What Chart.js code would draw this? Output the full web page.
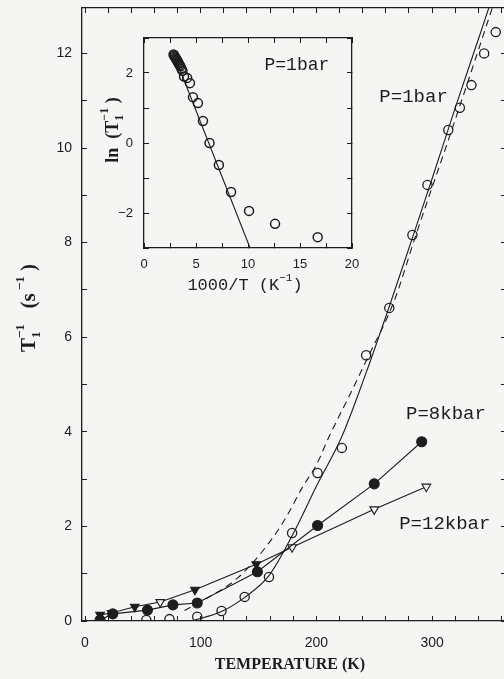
<!DOCTYPE html>
<html>
<head>
<meta charset="utf-8">
<script src="https://cdn.jsdelivr.net/npm/chart.js@4.4.1/dist/chart.umd.min.js"></script>
<style>
  html, body { margin: 0; padding: 0; background: #f5f5f4; overflow: hidden; }
  #wrap { position: relative; width: 504px; height: 679px; overflow: hidden; }
  #main { position: absolute; left: 0; top: 0; }
  #inset { position: absolute; left: 95px; top: 30px; }
</style>
</head>
<body>
<div id="wrap">
  <canvas id="main" width="512" height="679"></canvas>
  <canvas id="inset" width="265" height="270"></canvas>
</div>
<script>
const ink = '#1d1d1d';

// relaxation rate T1^-1 (s^-1) against temperature (K)
const tempOneBar = [53, 73, 97, 118, 138, 159, 179, 201, 222, 243, 263, 283, 296, 314, 324, 334, 345, 355];
const rateOneBar = [0.02, 0.04, 0.09, 0.21, 0.51, 0.93, 1.86, 3.13, 3.66, 5.62, 6.62, 8.16, 9.22, 10.38, 10.85, 11.33, 12.0, 12.45];

const temp8kbar = [13, 24, 54, 76, 97, 149, 201, 250, 291];
const rate8kbar = [0.02, 0.15, 0.23, 0.34, 0.38, 1.04, 2.02, 2.9, 3.79];

const temp12kbar = [13, 23, 43, 65, 95, 148, 179, 250, 295];
const rate12kbar = [0.13, 0.17, 0.3, 0.4, 0.66, 1.2, 1.56, 2.36, 2.84];
const filled12kbar = [true, true, true, false, true, true, false, false, false];

// 1 bar fits: solid and dashed
const fitTemp = [92, 118, 138, 159, 179, 200, 222, 243, 263, 283, 300, 320, 340, 349];
const fitRate = [0.0, 0.2, 0.5, 0.96, 1.8, 2.85, 3.9, 5.25, 6.65, 8.1, 9.35, 10.85, 12.3, 12.96];
const dashTemp = [86, 103, 132, 159, 174, 188, 200, 211, 228, 245, 267, 286, 317, 335, 352];
const dashRate = [0.22, 0.45, 0.91, 1.65, 2.2, 2.83, 3.3, 3.9, 4.74, 5.6, 6.75, 8.16, 10.38, 11.7, 12.96];

// inset: ln(T1^-1) against 1000/T
const invTemp = [2.84, 2.9, 2.96, 3.02, 3.08, 3.14, 3.2, 3.27, 3.34, 3.42, 3.5, 3.6, 3.7, 3.85, 4.15, 4.42, 4.71, 5.19, 5.67, 6.3, 7.2, 8.37, 10.1, 12.6, 16.7];
const lnRate = [2.53, 2.5, 2.47, 2.44, 2.41, 2.38, 2.35, 2.31, 2.27, 2.23, 2.19, 2.12, 2.06, 1.9, 1.86, 1.71, 1.31, 1.14, 0.63, 0.0, -0.63, -1.4, -1.94, -2.31, -2.69];
const invFit = [2.85, 10.2];
const lnFit = [2.55, -3];

// labelled ticks
const tempTicks = [0, 100, 200, 300];
const rateTicks = [0, 2, 4, 6, 8, 10, 12];
const invTicks = [0, 5, 10, 15, 20];
const lnTicks = [-2, 0, 2];

const pts = (xs, ys) => xs.map((x, i) => ({x, y: ys[i]}));

Chart.defaults.font.family = '"Liberation Sans", Arial, sans-serif';
Chart.defaults.color = ink;

function drawRich(ctx, pieces, cx, cy, angle) {
  ctx.save();
  ctx.translate(cx, cy);
  ctx.rotate(angle);
  let w = 0, pending = 0;
  const layout = [];
  pieces.forEach(p => {
    ctx.font = p.font;
    const pw = ctx.measureText(p.text).width;
    layout.push({p, x: w});
    if (p.stack) pending = Math.max(pending, pw);
    else { w += Math.max(pw, pending); pending = 0; }
  });
  ctx.fillStyle = ink;
  ctx.textAlign = 'left';
  ctx.textBaseline = 'alphabetic';
  layout.forEach(({p, x}) => {
    ctx.font = p.font;
    ctx.fillText(p.text, x - w / 2, 7 + (p.dy || 0));
  });
  ctx.restore();
}

// boxed axis with inward ticks; only bottom/left carry labels
function frameAxis(position, min, max, step, labels, opts) {
  const shown = position === 'bottom' || position === 'left';
  return {
    type: 'linear',
    position,
    min, max,
    border: { display: true, color: ink, width: 1.3 },
    grid: { drawOnChartArea: false, drawTicks: true, tickLength: -5, color: ink, tickWidth: 1 },
    ticks: {
      display: shown,
      stepSize: step,
      includeBounds: false,
      autoSkip: false,
      maxRotation: 0,
      padding: opts.padding,
      font: { size: opts.size },
      color: ink,
      callback: v => labels.includes(v) ? String(v).replace('-', '\u2212') : ''
    },
    afterFit: s => {
      if (position === 'top' || position === 'bottom') s.height = opts.extent;
      else s.width = opts.extent;
      s.paddingTop = s.paddingBottom = s.paddingLeft = s.paddingRight = 0;
    }
  };
}

const bold = s => 'bold ' + s + 'px "Liberation Serif", serif';
const mono = s => s + 'px "Liberation Mono", monospace';

const mainText = {
  id: 'mainText',
  afterDraw(chart) {
    const {ctx, chartArea, scales: {x, y}} = chart;
    ctx.save();
    ctx.fillStyle = ink;
    ctx.textAlign = 'center';
    ctx.textBaseline = 'middle';
    ctx.font = mono(19);
    ctx.fillText('P=1bar', x.getPixelForValue(284), y.getPixelForValue(11.08));
    ctx.fillText('P=8kbar', x.getPixelForValue(312), y.getPixelForValue(4.38));
    ctx.fillText('P=12kbar', x.getPixelForValue(311), y.getPixelForValue(2.05));
    ctx.font = bold(16);
    ctx.fillText('TEMPERATURE (K)', (chartArea.left + chartArea.right) / 2 - 4, chartArea.bottom + 44);
    ctx.restore();
    drawRich(ctx, [
      {text: 'T', font: bold(21)},
      {text: '1', font: bold(13), dy: 5, stack: true},
      {text: '\u22121', font: bold(13), dy: -11},
      {text: '   (s', font: bold(21)},
      {text: ' \u22121', font: bold(13), dy: -11},
      {text: ' )', font: bold(21)}
    ], 28, 308, -Math.PI / 2);
  }
};

const insetText = {
  id: 'insetText',
  afterDraw(chart) {
    const {ctx, chartArea, scales: {x, y}} = chart;
    ctx.save();
    ctx.fillStyle = ink;
    ctx.textAlign = 'center';
    ctx.textBaseline = 'middle';
    ctx.font = mono(18);
    ctx.fillText('P=1bar', x.getPixelForValue(14.7), y.getPixelForValue(2.23));
    ctx.restore();
    drawRich(ctx, [
      {text: '1000/T (K', font: mono(17)},
      {text: '\u22121', font: mono(11), dy: -9},
      {text: ')', font: mono(17)}
    ], (chartArea.left + chartArea.right) / 2 - 3, chartArea.bottom + 35, 0);
    drawRich(ctx, [
      {text: 'ln  (T', font: bold(18)},
      {text: '1', font: bold(12), dy: 5, stack: true},
      {text: '\u22121', font: bold(12), dy: -10},
      {text: ' )', font: bold(18)}
    ], 16, 100, -Math.PI / 2);
  }
};

new Chart(document.getElementById('main'), {
  type: 'scatter',
  data: {
    datasets: [
      {
        data: pts(tempOneBar, rateOneBar),
        pointStyle: 'circle', pointRadius: 4.6, borderWidth: 1.3,
        borderColor: ink, backgroundColor: 'rgba(0,0,0,0)', showLine: false
      },
      {
        data: pts(temp8kbar, rate8kbar),
        pointStyle: 'circle', pointRadius: 5, borderWidth: 1.1,
        borderColor: ink, backgroundColor: ink, pointBackgroundColor: ink,
        showLine: true, tension: 0
      },
      {
        data: pts(temp12kbar, rate12kbar),
        pointStyle: 'triangle', rotation: 180, pointRadius: 5, borderWidth: 1.1,
        borderColor: ink, pointBorderColor: ink,
        pointBackgroundColor: filled12kbar.map(f => f ? ink : '#f5f5f4'),
        showLine: true, tension: 0
      },
      {
        data: pts(fitTemp, fitRate),
        pointRadius: 0, borderWidth: 1.1, borderColor: ink,
        showLine: true, cubicInterpolationMode: 'monotone'
      },
      {
        data: pts(dashTemp, dashRate),
        pointRadius: 0, borderWidth: 1.1, borderColor: ink, borderDash: [7, 5],
        showLine: true, cubicInterpolationMode: 'monotone'
      }
    ]
  },
  options: {
    responsive: false,
    animation: false,
    devicePixelRatio: 1,
    layout: { padding: { left: 0, right: 5, top: 0, bottom: 0 } },
    plugins: { legend: { display: false }, tooltip: { enabled: false } },
    scales: {
      x: frameAxis('bottom', -2.6, 363.8, 20, tempTicks, { padding: 19, size: 14, extent: 58 }),
      x2: frameAxis('top', -2.6, 363.8, 20, tempTicks, { padding: 0, size: 14, extent: 8 }),
      y: frameAxis('left', 0, 12.96, 1, rateTicks, { padding: 15, size: 14, extent: 82 }),
      y2: frameAxis('right', 0, 12.96, 1, rateTicks, { padding: 0, size: 14, extent: 0 })
    }
  },
  plugins: [mainText]
});

new Chart(document.getElementById('inset'), {
  type: 'scatter',
  data: {
    datasets: [
      {
        data: pts(invTemp, lnRate),
        pointStyle: 'circle', pointRadius: 4.5, borderWidth: 1.5,
        borderColor: ink, backgroundColor: 'rgba(0,0,0,0)', showLine: false
      },
      {
        data: pts(invFit, lnFit),
        pointRadius: 0, borderWidth: 1.1, borderColor: ink, showLine: true
      }
    ]
  },
  options: {
    responsive: false,
    animation: false,
    devicePixelRatio: 1,
    layout: { padding: { left: 0, right: 8, top: 0, bottom: 0 } },
    plugins: { legend: { display: false }, tooltip: { enabled: false } },
    scales: {
      x: frameAxis('bottom', 0, 20, 2.5, invTicks, { padding: 14, size: 13, extent: 52 }),
      x2: frameAxis('top', 0, 20, 2.5, invTicks, { padding: 0, size: 13, extent: 8 }),
      y: frameAxis('left', -3, 3, 1, lnTicks, { padding: 16, size: 13, extent: 49 }),
      y2: frameAxis('right', -3, 3, 1, lnTicks, { padding: 0, size: 13, extent: 0 })
    }
  },
  plugins: [insetText]
});
</script>
</body>
</html>
